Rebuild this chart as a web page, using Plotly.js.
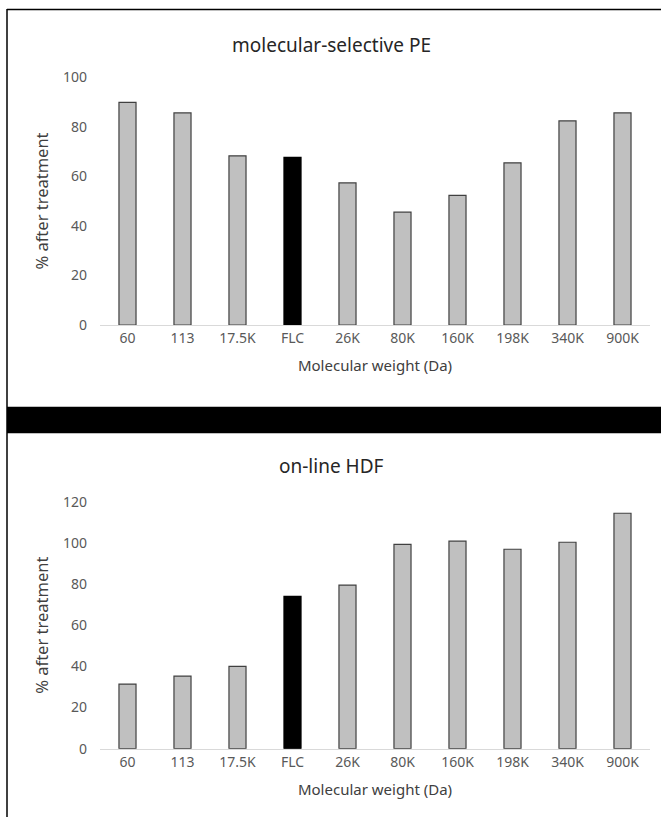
<!DOCTYPE html>
<html>
<head>
<meta charset="utf-8">
<script src="https://cdn.plot.ly/plotly-3.0.1.min.js"></script>
<style>
html,body{margin:0;padding:0;background:#fff;}
#chart{width:661px;height:817px;}
</style>
</head>
<body>
<div id="chart"></div>
<script>
// ---- data ----
const categories = ["60", "113", "17.5K", "FLC", "26K", "80K", "160K", "198K", "340K", "900K"];
const pePercent  = [89.8, 85.5, 68.2, 67.6, 57.3, 45.5, 52.3, 65.4, 82.3, 85.5];
const hdfPercent = [31.4, 35.3, 40.0, 74.0, 79.5, 99.3, 100.8, 96.9, 100.3, 114.4];
const highlight = "FLC";
const topTitle = "molecular-selective PE";
const bottomTitle = "on-line HDF";
const xTitle = "Molecular weight (Da)";
const yTitle = "% after treatment";

const W = 661, H = 817;
const px = v => v / W;
const py = v => 1 - v / H;

const fills = categories.map(c => c === highlight ? "#000000" : "#c0c0c0");
const lines = categories.map(c => c === highlight ? "#000000" : "#404040");

const FONT = "Noto Sans, Open Sans, sans-serif";

function barTrace(vals, xa, ya) {
  return {
    type: "bar", x: categories, y: vals, xaxis: xa, yaxis: ya,
    marker: {color: fills, line: {color: lines, width: 1.2}},
    hoverinfo: "x+y", showlegend: false
  };
}

const xCommon = {
  type: "category", domain: [px(100), px(650)],
  showgrid: false, zeroline: false, showline: true, linecolor: "#d9d9d9", linewidth: 1,
  ticks: "", tickfont: {family: FONT, size: 14, color: "#595959"},
  title: {text: xTitle, font: {family: FONT, size: 15, color: "#404040"}, standoff: 14},
  fixedrange: true
};
const yCommon = {
  showgrid: false, zeroline: false, showline: false, ticks: "",
  tickfont: {family: FONT, size: 14, color: "#595959"}, ticklabelstandoff: 12,
  title: {text: yTitle, font: {family: FONT, size: 16.5, color: "#404040"}, standoff: 10},
  fixedrange: true
};

const layout = {
  width: W, height: H,
  margin: {l: 0, r: 0, t: 0, b: 0},
  paper_bgcolor: "#ffffff", plot_bgcolor: "rgba(0,0,0,0)",
  bargap: 0.69,
  xaxis: Object.assign({}, xCommon, {anchor: "y"}),
  yaxis: Object.assign({}, yCommon, {anchor: "x", domain: [py(325), py(77)], range: [0, 100], dtick: 20}),
  xaxis2: Object.assign({}, xCommon, {anchor: "y2"}),
  yaxis2: Object.assign({}, yCommon, {anchor: "x2", domain: [py(748.7), py(501.7)], range: [0, 120], dtick: 20}),
  annotations: [
    {text: topTitle, xref: "paper", yref: "paper", x: px(331), y: py(45), showarrow: false,
     xanchor: "center", yanchor: "middle", font: {family: FONT, size: 19, color: "#262626"}},
    {text: bottomTitle, xref: "paper", yref: "paper", x: px(331), y: py(466), showarrow: false,
     xanchor: "center", yanchor: "middle", font: {family: FONT, size: 19, color: "#262626"}}
  ],
  shapes: [
    {type: "line", xref: "paper", yref: "paper", x0: px(7), x1: px(7), y0: py(9), y1: 0,
     line: {color: "#000000", width: 1.5}},
    {type: "line", xref: "paper", yref: "paper", x0: px(7), x1: 1, y0: py(9.5), y1: py(9.5),
     line: {color: "#000000", width: 1.5}},
    {type: "rect", xref: "paper", yref: "paper", x0: px(7), x1: 1, y0: py(433.3), y1: py(406.7),
     fillcolor: "#000000", line: {width: 0}}
  ]
};

Plotly.newPlot("chart", [barTrace(pePercent, "x", "y"), barTrace(hdfPercent, "x2", "y2")], layout,
  {displayModeBar: false, staticPlot: true});
</script>
</body>
</html>
